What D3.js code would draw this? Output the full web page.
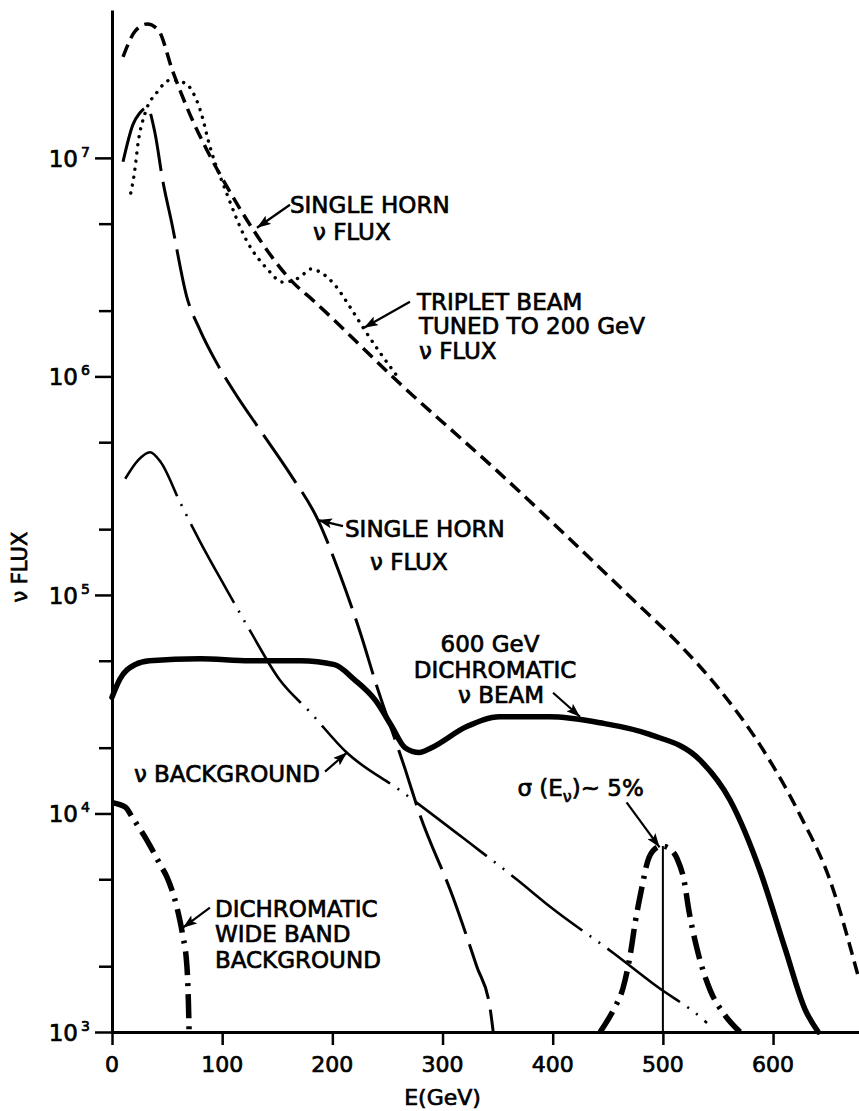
<!DOCTYPE html>
<html>
<head>
<meta charset="utf-8">
<script src="https://cdn.jsdelivr.net/npm/d3@7"></script>
<style>
  body { margin: 0; background: #fff; }
  svg text { font-family: "DejaVu Sans", sans-serif; fill: #000; stroke: #000; stroke-width: 0.7px; }
</style>
</head>
<body>
<div id="chart"></div>
<script>
/* global d3 */

// Canvas
const width = 859,
  height = 1111

// Data: energy in GeV, flux per curve
const singleHornNuE = [10, 21, 32, 42, 55, 71, 86, 107, 128, 164, 182, 261, 352, 473, 515.5, 551.8, 588.1, 624.4, 651.6, 677]
const singleHornNuF = [2.9e7, 3.8e7, 4.1e7, 3.85e7, 2.5e7, 1.57e7, 1.09e7, 7.0e6, 4.7e6, 2.7e6, 2.24e6, 9.3e5, 3.6e5, 9.5e4, 5.9e4, 3.67e4, 2.06e4, 9.85e3, 4.96e3, 1.82e3]

const tripletE = [17, 20, 24, 30, 41, 53, 66, 80, 89, 104, 122, 141, 155, 171, 180, 189, 202, 216, 228, 243, 259]
const tripletF = [6.9e6, 8.3e6, 1.2e7, 1.6e7, 2.0e7, 2.27e7, 2.2e7, 1.66e7, 1.12e7, 6.9e6, 4.2e6, 3.1e6, 2.7e6, 2.85e6, 3.1e6, 3.0e6, 2.63e6, 2.08e6, 1.67e6, 1.29e6, 1.0e6]

const singleHornBarE = [10, 19, 25, 32, 39, 46, 54, 68, 79.9, 93.5, 111.6, 134.3, 161.6, 187, 206.9, 225, 240.5, 266, 279, 309, 331, 343, 346]
const singleHornBarF = [9.6e6, 1.42e7, 1.6e7, 1.7e7, 1.3e7, 7.9e6, 5.1e6, 2.3e6, 1.63e6, 1.19e6, 8.4e5, 5.69e5, 3.58e5, 2.2e5, 1.24e5, 6.8e4, 3.8e4, 1.6e4, 1.0e4, 4.2e3, 2.0e3, 1.3e3, 1e3]

const nuBackgroundE = [12, 24, 34.5, 44, 62, 80, 103, 125, 152, 180, 213, 261, 325, 368, 398, 455, 495, 534, 540]
const nuBackgroundF = [3.4e5, 4.15e5, 4.5e5, 4.07e5, 2.64e5, 1.75e5, 1.08e5, 6.9e4, 4.1e4, 2.9e4, 1.9e4, 1.28e4, 7.3e3, 4.96e3, 3.73e3, 2.3e3, 1.61e3, 1.17e3, 1.1e3]

const dichroBeamE = [0, 7, 21, 34, 80, 125, 171, 202, 220, 239, 254, 266, 279, 290, 322, 352, 397, 443, 488, 534, 561, 588, 611, 629, 641]
const dichroBeamF = [3.4e4, 4.1e4, 4.8e4, 5.0e4, 5.1e4, 5.0e4, 5.0e4, 4.8e4, 4.1e4, 3.3e4, 2.5e4, 2.0e4, 1.9e4, 2.0e4, 2.5e4, 2.77e4, 2.77e4, 2.6e4, 2.3e4, 1.75e4, 1.15e4, 5.5e3, 2.4e3, 1.27e3, 1e3]

const wideBandE = [0.5, 12, 19, 32, 44, 50, 59, 64, 68, 69.3, 70]
const wideBandF = [1.12e4, 1.07e4, 9.5e3, 7.5e3, 5.8e3, 5.1e3, 3.7e3, 2.8e3, 2.0e3, 1.4e3, 1e3]

const sigmaPeakE = [443, 455, 464, 470, 475, 481, 486, 493, 499, 506, 513, 519, 524, 531, 543, 556, 570]
const sigmaPeakF = [1e3, 1.26e3, 1.6e3, 2.2e3, 3.2e3, 4.6e3, 6.0e3, 6.9e3, 7.1e3, 6.9e3, 6.2e3, 5.0e3, 3.5e3, 2.4e3, 1.55e3, 1.2e3, 1e3]

// Tick values
const xTicks = [0, 100, 200, 300, 400, 500, 600]
const yTicks = [2e3, 5e3, 1e4, 2e4, 5e4, 1e5, 2e5, 5e5, 1e6, 2e6, 5e6, 1e7]
const yMajor = [1e3, 1e4, 1e5, 1e6, 1e7]

// Scales
const x = d3.scaleLinear().domain([0, 678]).range([112, 859])
const y = d3.scaleLog().domain([1e3, 4.75e7]).range([1032, 10])

const svg = d3.select('#chart')
  .append('svg')
  .attr('width', width)
  .attr('height', height)
  .style('background', '#fff')

svg.append('defs').append('marker')
  .attr('id', 'arrow')
  .attr('markerUnits', 'userSpaceOnUse')
  .attr('viewBox', '0 0 14 10')
  .attr('refX', 14)
  .attr('refY', 5)
  .attr('markerWidth', 14)
  .attr('markerHeight', 10)
  .attr('orient', 'auto')
  .append('path')
  .attr('d', 'M0,0 L14,5 L0,10 L3,5 z')
  .attr('fill', '#000')

// Axes
let yAxis = svg.append('g')
  .attr('transform', `translate(${x(0)},0)`)
  .call(d3.axisLeft(y).tickValues(yTicks.concat([1e3])).tickSize(12).tickSizeOuter(0).tickFormat(''))
yAxis.select('.domain').attr('stroke-width', 3)
yAxis.selectAll('.tick line')
  .attr('stroke-width', 2.5)
  .attr('x2', d => yMajor.includes(d) ? -17 : -13)

let xAxis = svg.append('g')
  .attr('transform', `translate(0,${y(1e3)})`)
  .call(d3.axisBottom(x).tickValues(xTicks).tickSize(13).tickSizeOuter(0).tickFormat(''))
xAxis.select('.domain').attr('stroke-width', 3)
xAxis.selectAll('.tick line').attr('stroke-width', 2.5)

// Tick labels
svg.selectAll('.xlab')
  .data(xTicks)
  .enter()
  .append('text')
  .attr('x', d => x(d))
  .attr('y', y(1e3) + 40)
  .attr('text-anchor', 'middle')
  .style('font-size', '22px')
  .text(d => d)

svg.selectAll('.ylab')
  .data(yMajor)
  .enter()
  .append('text')
  .attr('x', x(0) - 34)
  .attr('y', d => y(d) + 9)
  .attr('text-anchor', 'end')
  .style('font-size', '23px')
  .text('10')
svg.selectAll('.ysup')
  .data(yMajor)
  .enter()
  .append('text')
  .attr('x', x(0) - 31)
  .attr('y', d => y(d) - 1)
  .style('font-size', '14px')
  .text(d => Math.round(Math.log10(d)))

svg.append('text')
  .attr('transform', `translate(27,${y(1.34e5)}) rotate(-90)`)
  .attr('text-anchor', 'middle')
  .style('font-size', '21px')
  .text('ν FLUX')

svg.append('text')
  .attr('x', x(300))
  .attr('y', y(1e3) + 73)
  .attr('text-anchor', 'middle')
  .style('font-size', '22px')
  .text('E(GeV)')

// Curves
let line = d3.line()
  .x(d => x(d[0]))
  .y(d => y(d[1]))
  .curve(d3.curveMonotoneX)

let curves = [
  { e: singleHornNuE, f: singleHornNuF, w: 3.5, dash: '13,7', cap: 'butt' },
  { e: tripletE, f: tripletF, w: 3.4, dash: '0.1,8', cap: 'round' },
  { e: singleHornBarE, f: singleHornBarF, w: 3, dash: '58,11', cap: 'butt' },
  { e: nuBackgroundE, f: nuBackgroundF, w: 2.6, dash: '90,9,2,9,2,9', cap: 'butt' },
  { e: dichroBeamE, f: dichroBeamF, w: 5.5, dash: null, cap: 'round' },
  { e: wideBandE, f: wideBandF, w: 5.5, dash: '24,8,3,8', cap: 'butt' },
  { e: sigmaPeakE, f: sigmaPeakF, w: 5.5, dash: '24,8,3,8', cap: 'butt' }
]

svg.selectAll('.curve')
  .data(curves)
  .enter()
  .append('path')
  .attr('class', 'curve')
  .attr('d', c => line(d3.zip(c.e, c.f)))
  .attr('fill', 'none')
  .attr('stroke', '#000')
  .attr('stroke-width', c => c.w)
  .attr('stroke-dasharray', c => c.dash)
  .attr('stroke-linecap', c => c.cap)

// vertical marker at the 500 GeV peak
svg.append('line')
  .attr('x1', x(500)).attr('x2', x(500))
  .attr('y1', y(d3.max(sigmaPeakF))).attr('y2', y(1e3))
  .attr('stroke', '#000')
  .attr('stroke-width', 2)

// Annotations: arrow tip on a curve, tail and text offsets in px
let notes = [
  { e: 131.6, f: 4.79e6, tail: [33, -23], anchor: 'start',
    lines: [['SINGLE HORN', 33, -15], ['ν FLUX', 56, 12]] },
  { e: 228.7, f: 1.67e6, tail: [46, -26], anchor: 'start',
    lines: [['TRIPLET BEAM', 53, -18], ['TUNED TO 200 GeV', 55, 6], ['ν FLUX', 55, 31]] },
  { e: 187, f: 2.2e5, tail: [25, 6], anchor: 'start',
    lines: [['SINGLE HORN', 27, 17], ['ν FLUX', 52, 50]] },
  { e: 424.8, f: 2.77e4, tail: [-27, -24], anchor: 'middle',
    lines: [['600 GeV', -90, -65], ['DICHROMATIC', -85, -39], ['ν BEAM', -79, -14]] },
  { e: 213.3, f: 1.9e4, tail: [-22, 19], anchor: 'end',
    lines: [['ν BACKGROUND', -27, 29]] },
  { e: 497, f: 7.0e3, tail: [-33, -45], anchor: 'middle',
    lines: [] },
  { e: 64.4, f: 3.0e3, tail: [27, -20], anchor: 'start',
    lines: [['DICHROMATIC', 32, -11], ['WIDE BAND', 32, 14], ['BACKGROUND', 32, 40]] }
]

notes.forEach(n => {
  let tx = x(n.e), ty = y(n.f)
  svg.append('line')
    .attr('x1', tx + n.tail[0]).attr('y1', ty + n.tail[1])
    .attr('x2', tx).attr('y2', ty)
    .attr('stroke', '#000')
    .attr('stroke-width', 2.2)
    .attr('marker-end', 'url(#arrow)')
  n.lines.forEach(l => {
    svg.append('text')
      .attr('x', tx + l[1])
      .attr('y', ty + l[2])
      .attr('text-anchor', n.anchor)
      .style('font-size', '23px')
      .text(l[0])
  })
})

// sigma label with subscript
let sig = svg.append('text')
  .attr('x', x(497) - 79)
  .attr('y', y(7.0e3) - 51)
  .attr('text-anchor', 'middle')
  .style('font-size', '23px')
sig.append('tspan').text('σ (E')
sig.append('tspan').attr('dy', 6).style('font-size', '16px').text('ν')
sig.append('tspan').attr('dy', -6).text(')~ 5%')
</script>
</body>
</html>
